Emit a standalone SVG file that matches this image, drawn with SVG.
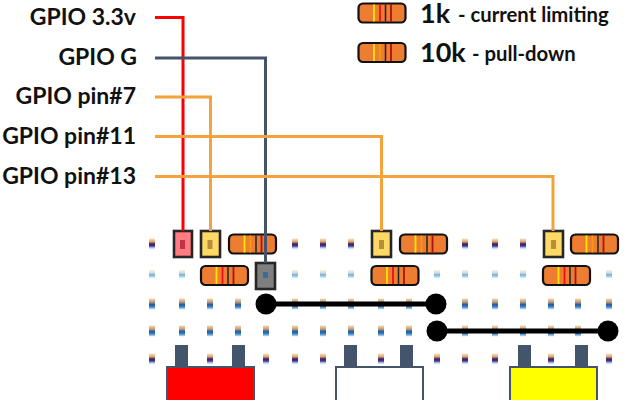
<svg xmlns="http://www.w3.org/2000/svg" width="640" height="400" viewBox="0 0 640 400">
<style>
.lbl{font-family:Lato,"Liberation Sans",sans-serif;font-weight:700;fill:#111}
.gp{font-size:23px;text-anchor:end}
.big{font-size:27px}
.sm{font-size:20.3px}
.wire{fill:none;stroke-width:3}
.pin{stroke:#262626;stroke-width:2.6}
.body{fill:#ed7d31;stroke:#111;stroke-width:2.2}
.lead{fill:#44546a}
.part{stroke:#44546a;stroke-width:2}
.jump{stroke:#000;stroke-width:5}
</style>
<defs>
<linearGradient id="gP" x1="0" y1="0" x2="0" y2="1"><stop offset="0" stop-color="#fbe3c0"/><stop offset=".3" stop-color="#d9a56b"/><stop offset=".5" stop-color="#3c1a6b"/><stop offset=".7" stop-color="#5c3a8a"/><stop offset=".85" stop-color="#a8d8f5"/><stop offset="1" stop-color="#e8f5fd"/></linearGradient>
<linearGradient id="gB" x1="0" y1="0" x2="0" y2="1"><stop offset="0" stop-color="#f5d9b5"/><stop offset=".3" stop-color="#cf9f70"/><stop offset=".55" stop-color="#1f5ea8"/><stop offset=".75" stop-color="#3a7fc0"/><stop offset="1" stop-color="#d5ecfb"/></linearGradient>
<linearGradient id="gL" x1="0" y1="0" x2="0" y2="1"><stop offset="0" stop-color="#fdf3e0"/><stop offset=".4" stop-color="#cfd8d8"/><stop offset=".6" stop-color="#6aaee0"/><stop offset="1" stop-color="#dff1fc"/></linearGradient>
<rect id="dP" x="-3" y="-5.500" width="6" height="11" fill="url(#gP)"/>
<rect id="dB" x="-3" y="-5.500" width="6" height="11" fill="url(#gB)"/>
<rect id="dL" x="-3" y="-4" width="6" height="8" fill="url(#gL)"/>
<g id="r1k"><rect class="body" width="47" height="19" rx="4.500"/><path d="M15.500 1V18" stroke="#ffe600" stroke-width="1.800"/><path d="M21.500 1V18" stroke="#f01010" stroke-width="1.800"/><path d="M27 1V18" stroke="#222" stroke-width="1.500"/><path d="M32.500 1V18" stroke="#b01010" stroke-width="1.800"/></g>
<g id="r10k"><rect class="body" width="47" height="19" rx="4.500"/><path d="M15.500 1V18" stroke="#ffe600" stroke-width="1.800"/><path d="M21.500 1V18" stroke="#f59a10" stroke-width="1.800"/><path d="M27 1V18" stroke="#222" stroke-width="1.500"/><path d="M32.500 1V18" stroke="#b01010" stroke-width="1.800"/></g>
</defs>

<g id="holes">
<use href="#dP" x="152" y="244"/><use href="#dP" x="295" y="244"/><use href="#dP" x="323" y="244"/><use href="#dP" x="351" y="244"/><use href="#dP" x="465" y="244"/><use href="#dP" x="495" y="244"/><use href="#dP" x="523" y="244"/>
<use href="#dL" x="152" y="274"/><use href="#dL" x="182" y="274"/><use href="#dL" x="295" y="274"/><use href="#dL" x="323" y="274"/><use href="#dL" x="351" y="274"/><use href="#dL" x="437" y="274"/><use href="#dL" x="465" y="274"/><use href="#dL" x="495" y="274"/><use href="#dL" x="523" y="274"/><use href="#dL" x="609" y="274"/>
<use href="#dB" x="152" y="304"/><use href="#dB" x="182" y="304"/><use href="#dB" x="210" y="304"/><use href="#dB" x="238" y="304"/><use href="#dB" x="295" y="304"/><use href="#dB" x="323" y="304"/><use href="#dB" x="351" y="304"/><use href="#dB" x="381" y="304"/><use href="#dB" x="409" y="304"/><use href="#dB" x="465" y="304"/><use href="#dB" x="495" y="304"/><use href="#dB" x="523" y="304"/><use href="#dB" x="551" y="304"/><use href="#dB" x="578" y="304"/><use href="#dB" x="609" y="304"/>
<use href="#dB" x="152" y="331"/><use href="#dB" x="182" y="331"/><use href="#dB" x="210" y="331"/><use href="#dB" x="238" y="331"/><use href="#dB" x="266" y="331"/><use href="#dB" x="295" y="331"/><use href="#dB" x="323" y="331"/><use href="#dB" x="351" y="331"/><use href="#dB" x="381" y="331"/><use href="#dB" x="409" y="331"/><use href="#dB" x="465" y="331"/><use href="#dB" x="495" y="331"/><use href="#dB" x="523" y="331"/><use href="#dB" x="551" y="331"/><use href="#dB" x="578" y="331"/>
<use href="#dP" x="152" y="359"/><use href="#dP" x="210" y="359"/><use href="#dP" x="266" y="359"/><use href="#dP" x="295" y="359"/><use href="#dP" x="323" y="359"/><use href="#dP" x="381" y="359"/><use href="#dP" x="437" y="359"/><use href="#dP" x="465" y="359"/><use href="#dP" x="495" y="359"/><use href="#dP" x="551" y="359"/><use href="#dP" x="609" y="359"/>
</g>

<g id="resistors">
<g id="res-a"><use href="#r10k" x="229" y="234.500"/></g>
<g id="res-b"><use href="#r1k" x="201" y="266"/></g>
<g id="res-c"><use href="#r10k" x="400" y="234.500"/></g>
<g id="res-d"><use href="#r1k" x="371.500" y="266"/></g>
<g id="res-e"><use href="#r10k" x="571" y="234.500"/></g>
<g id="res-f"><use href="#r1k" x="543" y="266"/></g>
</g>

<g id="pin-red"><rect class="pin" x="174" y="231" width="18" height="26" fill="#ff7c80"/><rect x="180" y="240" width="5" height="9" fill="#b0203a" opacity=".8"/></g>
<g id="pin-y1"><rect class="pin" x="201" y="231" width="19" height="26" fill="#ffd966"/><rect x="207.500" y="240" width="5" height="9" fill="#a87a30" opacity=".8"/></g>
<g id="pin-gray"><rect class="pin" x="256" y="263" width="19" height="26" fill="#7f7f7f"/><rect x="263" y="272" width="5" height="6" fill="#3d6a9a"/></g>
<g id="pin-y2"><rect class="pin" x="372" y="231" width="19" height="26" fill="#ffd966"/><rect x="379" y="240" width="5" height="9" fill="#a87a30" opacity=".8"/></g>
<g id="pin-y3"><rect class="pin" x="544" y="231" width="19" height="26" fill="#ffd966"/><rect x="551" y="240" width="5" height="9" fill="#a87a30" opacity=".8"/></g>

<g id="connectors">
<path class="wire" stroke="#ff0000" d="M155 17.500H183V231"/>
<path class="wire" stroke="#44546a" d="M155 58H265.500V263"/>
<path class="wire" stroke="#f4a23c" d="M155 97H210.500V231"/>
<path class="wire" stroke="#f4a23c" d="M155 136.500H381.500V231"/>
<path class="wire" stroke="#f4a23c" d="M155 176.500H553V231"/>
</g>

<g id="jumper-1"><path class="jump" d="M266 304H436"/><circle cx="266" cy="304" r="10.500"/><circle cx="436" cy="304" r="10.500"/></g>
<g id="jumper-2"><path class="jump" d="M437 331H608"/><circle cx="437" cy="331" r="10.500"/><circle cx="608" cy="331" r="10.500"/></g>

<g id="part-red"><rect class="lead" x="175" y="345" width="13" height="22"/><rect class="lead" x="232" y="345" width="13" height="22"/><rect class="part" x="167" y="367" width="87" height="40" fill="#ff0000"/></g>
<g id="part-white"><rect class="lead" x="344" y="345" width="13" height="22"/><rect class="lead" x="400" y="345" width="13" height="22"/><rect class="part" x="336" y="367" width="87" height="40" fill="#fff"/></g>
<g id="part-yellow"><rect class="lead" x="518" y="345" width="13" height="22"/><rect class="lead" x="575" y="345" width="13" height="22"/><rect class="part" x="510" y="367" width="87" height="40" fill="#ffff00"/></g>

<g id="labels">
<text class="lbl gp" x="136" y="25">GPIO 3.3v</text>
<text class="lbl gp" x="137" y="65">GPIO G</text>
<text class="lbl gp" x="136" y="104">GPIO pin#7</text>
<text class="lbl gp" x="136" y="144">GPIO pin#11</text>
<text class="lbl gp" x="136" y="184">GPIO pin#13</text>
</g>
<g id="legend">
<use href="#r1k" x="358.500" y="3.500"/>
<use href="#r10k" x="358.500" y="43"/>
<text class="lbl big" x="420" y="23">1k</text>
<text class="lbl sm" x="458" y="22">- current limiting</text>
<text class="lbl big" x="420" y="62">10k</text>
<text class="lbl sm" x="472" y="61">- pull-down</text>
</g>
</svg>
